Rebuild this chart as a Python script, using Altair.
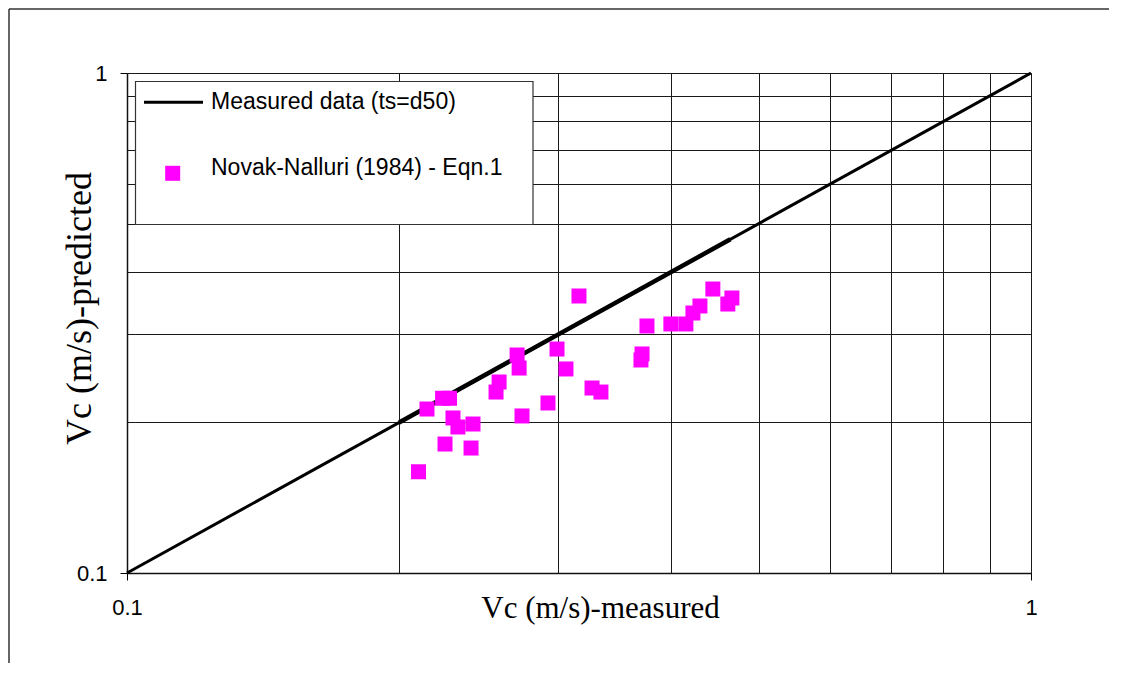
import altair as alt
import pandas as pd

# ---- data ----
measured = [0.2101, 0.2147, 0.2234, 0.2274, 0.2294, 0.2323, 0.2414, 0.2248, 0.2402,
            0.2560, 0.2580, 0.2701, 0.2715, 0.2735, 0.2990, 0.3059, 0.2922, 0.3162,
            0.3269, 0.3344, 0.3760, 0.3713, 0.3703, 0.3996, 0.4152, 0.4227, 0.4303,
            0.4447, 0.4620, 0.4668]
predicted = [0.1594, 0.2128, 0.2236, 0.2236, 0.2042, 0.1959, 0.1986, 0.1811, 0.1778,
             0.2301, 0.2410, 0.2729, 0.2570, 0.2061, 0.2805, 0.2559, 0.2188, 0.3581,
             0.2344, 0.2301, 0.3119, 0.2742, 0.2667, 0.3148, 0.3148, 0.3311, 0.3420,
             0.3698, 0.3451, 0.3548]
line_x = [0.1, 1.0]
line_y = [0.1, 1.0]
thick_x = [0.2, 0.465]
thick_y = [0.2, 0.465]
grid_values = [0.1, 0.2, 0.3, 0.4, 0.5, 0.6, 0.7, 0.8, 0.9, 1.0]
legend_labels = ["Measured data (ts=d50)", "Novak-Nalluri (1984) - Eqn.1"]
x_title = "Vc (m/s)-measured"
y_title = "Vc (m/s)-predicted"

pts = pd.DataFrame({"measured": measured, "predicted": predicted})
line_df = pd.DataFrame({"measured": line_x, "predicted": line_y})
thick_df = pd.DataFrame({"measured": thick_x, "predicted": thick_y})

W, H = 904, 500
LABEL_FONT = "Liberation Sans"
TITLE_FONT = "Liberation Serif"

label_expr = "datum.value == 1 ? '1' : (datum.value == 0.1 ? '0.1' : '')"
tick_color = alt.condition("datum.value == 1 || datum.value == 0.1",
                           alt.value("#000000"), alt.value("transparent"))

x_scale = alt.Scale(type="log", domain=[0.1, 1.0], nice=False)
y_scale = alt.Scale(type="log", domain=[0.1, 1.0], nice=False)

x_axis = alt.Axis(values=grid_values, labelExpr=label_expr, grid=True,
                  gridColor="#1a1a1a", gridWidth=1, domainColor="#111111", domainWidth=1.5,
                  tickColor=tick_color, tickSize=7, tickWidth=1,
                  labelFont=LABEL_FONT, labelFontSize=22, labelColor="#000000",
                  labelBaseline="alphabetic", labelPadding=34, labelFlush=False,
                  labelOverlap=False, labelBound=False,
                  title=x_title, titleFont=TITLE_FONT, titleFontSize=31,
                  titleFontWeight="normal", titleColor="#000000",
                  titleX=473, titleY=44, titleAlign="center", titleBaseline="alphabetic")
y_axis = alt.Axis(values=grid_values, labelExpr=label_expr, grid=True,
                  gridColor="#1a1a1a", gridWidth=1, domainColor="#111111", domainWidth=1.5,
                  tickColor=tick_color, tickSize=7, tickWidth=1,
                  labelFont=LABEL_FONT, labelFontSize=22, labelColor="#000000",
                  labelBaseline="middle", labelPadding=13, labelFlush=False,
                  labelOverlap=False, labelBound=False,
                  title=y_title, titleFont=TITLE_FONT, titleFontSize=36,
                  titleFontWeight="normal", titleColor="#000000", titleAngle=270,
                  titleX=-37, titleY=235, titleAlign="center", titleBaseline="alphabetic")

one = pd.DataFrame({"k": [0]})

# outer frame (decoration): only top and left edges fall inside the page
frame_top = alt.Chart(one).mark_rule(color="#333333", strokeWidth=1.5).encode(
    x=alt.value(-118), x2=alt.value(1000), y=alt.value(-64))
frame_left = alt.Chart(one).mark_rule(color="#333333", strokeWidth=1.5).encode(
    x=alt.value(-118), y=alt.value(-64), y2=alt.value(600))

line = alt.Chart(line_df).mark_line(color="#000000", strokeWidth=3).encode(
    x=alt.X("measured:Q", scale=x_scale, axis=x_axis),
    y=alt.Y("predicted:Q", scale=y_scale, axis=y_axis),
)
thick = alt.Chart(thick_df).mark_line(color="#000000", strokeWidth=4.5).encode(
    x=alt.X("measured:Q", scale=x_scale),
    y=alt.Y("predicted:Q", scale=y_scale),
)
points = alt.Chart(pts).mark_point(
    shape="square", filled=True, size=225, color="#FF00FF", opacity=1
).encode(
    x=alt.X("measured:Q", scale=x_scale),
    y=alt.Y("predicted:Q", scale=y_scale),
)

# legend box
leg_box = alt.Chart(one).mark_rect(
    fill="#FFFFFF", stroke="#333333", strokeWidth=1.2
).encode(x=alt.value(8.5), x2=alt.value(406), y=alt.value(8.5), y2=alt.value(151.5))
leg_line = alt.Chart(one).mark_rule(
    color="#000000", strokeWidth=3
).encode(x=alt.value(17), x2=alt.value(76), y=alt.value(29.3))
leg_sq = alt.Chart(one).mark_point(
    shape="square", filled=True, size=225, color="#FF00FF", opacity=1
).encode(x=alt.value(45.7), y=alt.value(100.3))
leg_t1 = alt.Chart(one).mark_text(
    align="left", baseline="alphabetic", font=LABEL_FONT, fontSize=23, color="#000000"
).encode(x=alt.value(84), y=alt.value(36), text=alt.value(legend_labels[0]))
leg_t2 = alt.Chart(one).mark_text(
    align="left", baseline="alphabetic", font=LABEL_FONT, fontSize=23, color="#000000"
).encode(x=alt.value(84), y=alt.value(102), text=alt.value(legend_labels[1]))

chart = alt.layer(
    frame_top, frame_left, line, thick, points, leg_box, leg_line, leg_sq, leg_t1, leg_t2
).properties(
    width=W, height=H,
    autosize=alt.AutoSizeParams(type="none"),
    padding={"left": 119, "top": 65, "right": 78, "bottom": 90},
).configure_view(stroke=None).configure(background="#FFFFFF")

chart.save("out.html", embed_options={"renderer": "svg", "actions": False})
